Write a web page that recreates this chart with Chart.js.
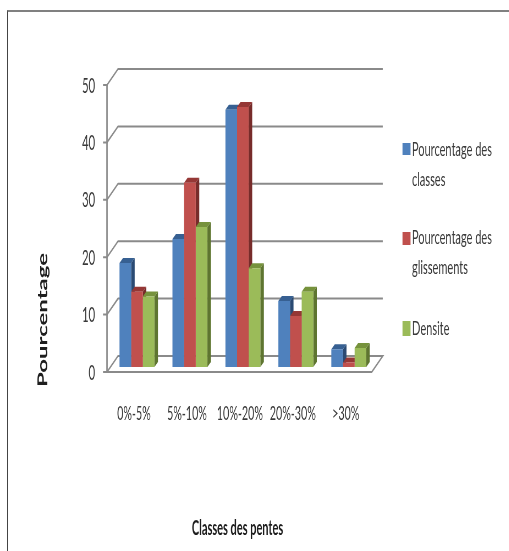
<!DOCTYPE html>
<html lang="fr">
<head>
<meta charset="utf-8">
<title>Classes des pentes</title>
<script src="https://cdn.jsdelivr.net/npm/chart.js@4"></script>
<style>
  html, body { margin: 0; padding: 0; background: #fff; overflow: hidden; }
  #page { position: relative; width: 509px; height: 551px; overflow: hidden; background: #fff; }
  #frame { position: absolute; left: 7px; top: 10px; right: 0; bottom: 0;
           border-top: 2px solid #808080; border-left: 1px solid #444; pointer-events: none; }
  /* The figure is drawn wide, then condensed horizontally as a whole. */
  #chart { position: absolute; left: 0; top: 0; transform-origin: 0 0; transform: scaleX(0.55); }
</style>
</head>
<body>
<div id="page">
  <canvas id="chart" width="925" height="551"></canvas>
  <div id="frame"></div>
</div>
<script>
const categories = ["0%-5%", "5%-10%", "10%-20%", "20%-30%", ">30%"];
const pourcentageClasses = [18.1, 22.3, 44.8, 11.5, 3.1];
const pourcentageGlissements = [13.1, 32.1, 45.3, 8.9, 0.8];
const densite = [12.3, 24.4, 17.2, 13.1, 3.3];
const seriesNames = ["Pourcentage des classes", "Pourcentage des glissements", "Densite"];
const yTickValues = [0, 10, 20, 30, 40, 50];
const xTitle = "Classes des pentes";
const yTitle = "Pourcentage";

const KX = 0.55;                      // horizontal condensing of the whole figure
const px = v => v / KX;               // screen pixels to canvas units along x

const faceColors = ["#4F81BD", "#C0504D", "#9BBB59"];
const topColors = ["#376092", "#953735", "#76923C"];
const sideColors = ["#2A4A73", "#772C2A", "#5E7530"];
const gridColor = "#8A8A8A";
const textColor = "#3A3A3A";
const labelFont = "Lato, sans-serif";

// Depth of the box and of the bars, in screen pixels.
const wall = { dx: 11, dy: 16, front: 5 };
const barDepth = { dx: 3.5, dy: 5 };

function poly(ctx, pts, fill) {
  ctx.beginPath();
  pts.forEach((p, i) => i ? ctx.lineTo(p[0], p[1]) : ctx.moveTo(p[0], p[1]));
  ctx.closePath();
  ctx.fillStyle = fill;
  ctx.fill();
}

// Walls, floor and tick marks of the 3D box, placed from the chart's own scales.
const box3d = {
  id: "box3d",
  beforeDatasetsDraw(chart) {
    const { ctx, scales: { x, y } } = chart;
    const left = x.left - px(3.5), right = x.right - px(3.5);
    const dx = px(wall.dx);
    ctx.save();
    ctx.lineCap = "butt";
    ctx.strokeStyle = gridColor;
    ctx.lineWidth = 2;
    yTickValues.forEach(v => {
      const fy = y.getPixelForValue(v) + wall.front;
      ctx.beginPath();
      ctx.moveTo(left - px(4), fy);
      ctx.lineTo(left, fy);
      if (v > 0) {
        ctx.lineTo(left + dx, fy - wall.dy);
        ctx.lineTo(right + dx, fy - wall.dy);
      }
      ctx.stroke();
    });
    const y0 = y.getPixelForValue(0) + wall.front;
    const y50 = y.getPixelForValue(50) + wall.front;
    // Floor
    ctx.beginPath();
    ctx.moveTo(left, y0);
    ctx.lineTo(right, y0);
    ctx.lineTo(right + dx, y0 - wall.dy);
    ctx.lineTo(left + dx, y0 - wall.dy);
    ctx.closePath();
    ctx.stroke();
    // Front vertical axis
    ctx.lineWidth = px(1.5);
    ctx.beginPath();
    ctx.moveTo(left, y50);
    ctx.lineTo(left, y0);
    ctx.stroke();
    // Top and side of each bar, painted under the bar fronts
    chart.data.datasets.forEach((ds, i) => {
      chart.getDatasetMeta(i).data.forEach(bar => {
        const l = bar.x - bar.width / 2, r = bar.x + bar.width / 2;
        const ox = px(barDepth.dx), oy = barDepth.dy;
        poly(ctx, [[r, bar.y], [r + ox, bar.y - oy], [r + ox, bar.base - oy], [r, bar.base]], sideColors[i]);
        poly(ctx, [[l, bar.y], [l + ox, bar.y - oy], [r + ox, bar.y - oy], [r, bar.y]], topColors[i]);
      });
    });
    ctx.restore();
  }
};

// Legend entries with wrapped names, and the two axis titles.
const annotations = {
  id: "annotations",
  afterDraw(chart) {
    const { ctx } = chart;
    ctx.save();
    ctx.textBaseline = "middle";
    ctx.textAlign = "left";
    ctx.fillStyle = textColor;
    ctx.font = "20px " + labelFont;
    const entries = [
      { sw: 143, h: 12, lines: [[150, "Pourcentage des"], [180, "classes"]] },
      { sw: 232, h: 13, lines: [[238, "Pourcentage des"], [268, "glissements"]] },
      { sw: 321, h: 15, lines: [[329, "Densite"]] }
    ];
    entries.forEach((e, i) => {
      ctx.fillStyle = faceColors[i];
      ctx.fillRect(px(402.5), e.sw, px(8), e.h);
      ctx.fillStyle = textColor;
      e.lines.forEach(([ly, t]) => ctx.fillText(t, px(412), ly));
    });
    // Axis titles
    ctx.textAlign = "center";
    ctx.fillStyle = "#1E1E1E";
    ctx.font = "bold 20px " + labelFont;
    ctx.fillText(xTitle, px(237.5), 529);
    ctx.translate(px(43), 320);
    ctx.rotate(-Math.PI / 2);
    ctx.font = "bold 24px " + labelFont;
    ctx.fillText(yTitle, 0, 0);
    ctx.restore();
  }
};

new Chart(document.getElementById("chart"), {
  type: "bar",
  data: {
    labels: categories,
    datasets: [pourcentageClasses, pourcentageGlissements, densite].map((values, i) => ({
      label: seriesNames[i],
      data: values,
      backgroundColor: faceColors[i],
      borderWidth: 0,
      barPercentage: 1,
      categoryPercentage: 0.66
    }))
  },
  options: {
    responsive: false,
    animation: false,
    layout: { padding: { left: 0, right: px(509 - 375.5), top: 80, bottom: 0 } },
    plugins: { legend: { display: false }, title: { display: false }, tooltip: { enabled: false } },
    scales: {
      x: {
        grid: { display: false },
        border: { display: false },
        afterFit(s) { s.height = 184; },
        ticks: {
          color: textColor,
          font: { family: labelFont, size: 19.5 },
          maxRotation: 0,
          minRotation: 0,
          autoSkip: false,
          padding: 27,
          labelOffset: px(-3)
        }
      },
      y: {
        min: 0,
        max: 50,
        grid: { display: false },
        border: { display: false },
        afterFit(s) { s.width = px(110.5); },
        afterBuildTicks(s) { s.ticks = yTickValues.map(v => ({ value: v })); },
        ticks: {
          color: textColor,
          font: { family: labelFont, size: 20.5 },
          padding: px(11),
          labelOffset: 6
        }
      }
    }
  },
  plugins: [box3d, annotations]
});
</script>
</body>
</html>
